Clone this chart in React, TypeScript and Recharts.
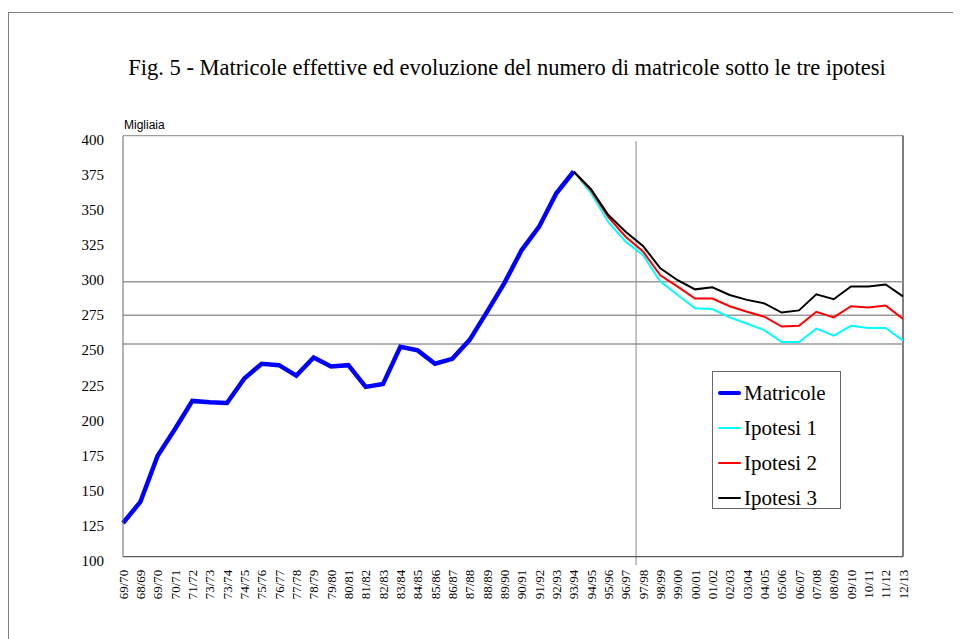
import React from 'react';
import {
  LineChart,
  Line,
  XAxis,
  YAxis,
  ReferenceLine,
  Legend,
} from 'recharts';

// anno accademico (labels as printed in the original, typos included)
const years = [
  '69/70', '68/69', '69/70', '70/71', '71/72', '73/73', '73/74', '74/75', '75/76', '76/77',
  '77/78', '78/79', '79/80', '80/81', '81/82', '82/83', '83/84', '84/85', '85/86', '86/87',
  '87/88', '88/89', '89/90', '90/91', '91/92', '92/93', '93/94', '94/95', '95/96', '96/97',
  '97/98', '98/99', '99/00', '00/01', '01/02', '02/03', '03/04', '04/05', '05/06', '06/07',
  '07/08', '08/09', '09/10', '10/11', '11/12', '12/13',
];

// matricole effettive, 69/70 .. 93/94 (migliaia)
const matricole = [
  124, 139, 172, 191, 211, 210, 209.5, 227, 237.5, 236.5, 229, 242, 235.5, 236.5, 221, 223,
  249.5, 247, 237.5, 241, 254.5, 274.5, 295, 318.5, 335, 359, 374.5,
];

// projections, 93/94 .. 12/13
const ipotesi1 = [
  374.5, 359, 338.5, 324.5, 315, 296, 286.5, 277, 276.5, 270.5, 266, 261.5, 253, 253, 262.5,
  257.5, 264.5, 263, 263, 254,
];
const ipotesi2 = [
  374.5, 361, 342, 328, 317.5, 300.5, 292.5, 284, 284, 278.5, 274.5, 271, 264, 264.5, 274.5,
  270.5, 278.5, 277.5, 279, 269.5,
];
const ipotesi3 = [
  374.5, 362, 343.5, 331.5, 321.5, 305.5, 297, 290.5, 292, 286.5, 283, 280.5, 274, 275.5, 287,
  283.5, 292.5, 292.5, 294, 285.5,
];

const yTicks = [100, 125, 150, 175, 200, 225, 250, 275, 300, 325, 350, 375, 400];
const guideLines = [296, 272, 251.5];
const projStart = 26;

const serif = "'Times New Roman', 'Liberation Serif', serif";

const data = years.map((year, i) => ({
  i,
  year,
  matricole: i < matricole.length ? matricole[i] : null,
  ip1: i >= projStart ? ipotesi1[i - projStart] : null,
  ip2: i >= projStart ? ipotesi2[i - projStart] : null,
  ip3: i >= projStart ? ipotesi3[i - projStart] : null,
}));

const series = [
  { key: 'matricole', name: 'Matricole', color: '#0000ff', width: 4.5 },
  { key: 'ip1', name: 'Ipotesi 1', color: '#00ffff', width: 2 },
  { key: 'ip2', name: 'Ipotesi 2', color: '#ff0000', width: 2 },
  { key: 'ip3', name: 'Ipotesi 3', color: '#000000', width: 2 },
];

const YTick = ({ x, y, payload }: any) => (
  <text x={x} y={y + 4} dy="0.35em" textAnchor="end" fontSize={15} fontFamily={serif} fill="#000">
    {payload.value}
  </text>
);

const XTick = ({ x, y, payload }: any) => (
  <text
    x={x}
    y={y}
    dy="0.35em"
    textAnchor="end"
    fontSize={13}
    fontFamily={serif}
    fill="#000"
    transform={`rotate(-90, ${x}, ${y})`}
  >
    {years[payload.value]}
  </text>
);

const LegendBox = () => (
  <div
    style={{
      width: 127,
      height: 136,
      border: '1px solid #666',
      background: '#fff',
      position: 'relative',
      fontFamily: serif,
      fontSize: 21,
    }}
  >
    {series.map((s, k) => (
      <div
        key={s.key}
        style={{ position: 'absolute', left: 5, top: 8 + k * 35, height: 26, display: 'flex', alignItems: 'center' }}
      >
        <div style={{ width: 23, height: s.key === 'matricole' ? 4 : 2, background: s.color, borderRadius: 2 }} />
        <span style={{ marginLeft: 3, lineHeight: '26px', whiteSpace: 'nowrap' }}>{s.name}</span>
      </div>
    ))}
  </div>
);

export default function App() {
  return (
    <div style={{ position: 'relative', width: 953, height: 631, overflow: 'hidden', background: '#fff' }}>
      <div
        style={{
          position: 'absolute',
          left: 0,
          top: 4,
          width: 960,
          height: 640,
          borderTop: '1px solid #808080',
          borderLeft: '1px solid #808080',
        }}
      />
      <div
        style={{
          position: 'absolute',
          left: 0,
          top: 49,
          width: 998,
          textAlign: 'center',
          fontFamily: serif,
          fontSize: 22.5,
          lineHeight: '22px',
          whiteSpace: 'nowrap',
        }}
      >
        Fig. 5 - Matricole effettive ed evoluzione del numero di matricole sotto le tre ipotesi
      </div>
      <div
        style={{
          position: 'absolute',
          left: 116,
          top: 111,
          fontFamily: "'Liberation Sans', Arial, sans-serif",
          fontSize: 12,
          lineHeight: '12px',
        }}
      >
        Migliaia
      </div>
      <LineChart
        width={953}
        height={631}
        data={data}
        margin={{ top: 127.7, right: 58, bottom: 22.3, left: 0 }}
      >
        <XAxis
          type="number"
          dataKey="i"
          domain={[0, 45]}
          ticks={years.map((_, i) => i)}
          interval={0}
          tick={<XTick />}
          tickLine={false}
          tickSize={0}
          tickMargin={13}
          height={60}
          axisLine={{ stroke: '#333' }}
        />
        <YAxis
          type="number"
          domain={[100, 400]}
          ticks={yTicks}
          interval={0}
          tick={<YTick />}
          tickLine={false}
          tickSize={0}
          tickMargin={19}
          width={115}
          axisLine={{ stroke: '#666' }}
        />
        <ReferenceLine y={400} stroke="#888" />
        <ReferenceLine x={45} stroke="#000" />
        {guideLines.map((v) => (
          <ReferenceLine key={v} y={v} stroke="#999" strokeWidth={1.5} />
        ))}
        <ReferenceLine
          segment={[
            { x: 29.6, y: 396 },
            { x: 29.6, y: 94 },
          ]}
          stroke="#888"
          ifOverflow="visible"
        />
        {series.map((s) => (
          <Line
            key={s.key}
            type="linear"
            dataKey={s.key}
            name={s.name}
            stroke={s.color}
            strokeWidth={s.width}
            dot={false}
            activeDot={false}
            connectNulls={false}
            isAnimationActive={false}
          />
        ))}
        <Legend
          layout="horizontal"
          verticalAlign="middle"
          align="center"
          content={<LegendBox />}
          wrapperStyle={{ position: 'absolute', left: 704, top: 363, width: 'auto', bottom: 'auto' }}
        />
      </LineChart>
    </div>
  );
}
